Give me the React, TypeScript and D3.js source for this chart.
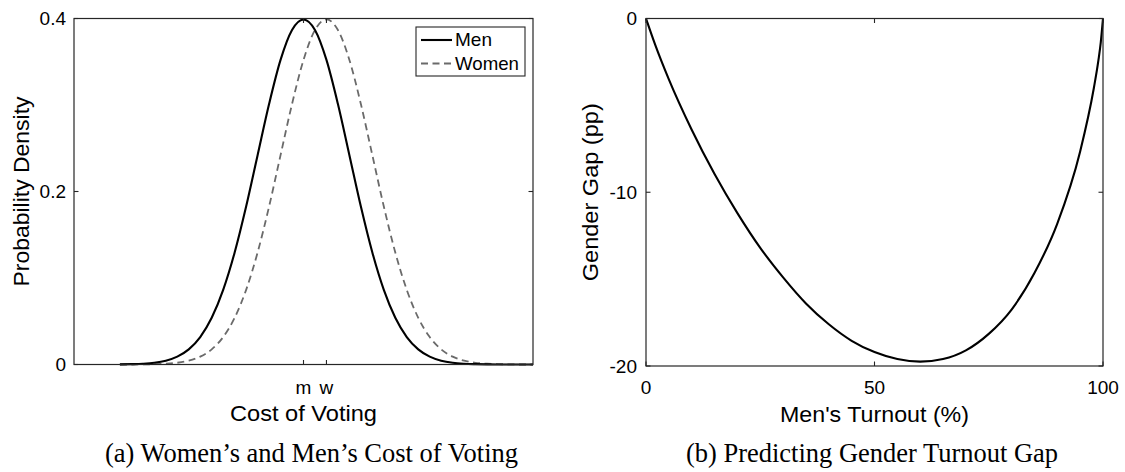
import React from "react";
import * as d3 from "d3";

// ---- Panel (a): cost of voting densities ----
const costGrid = [
  -4, -3.75, -3.5, -3.25, -3, -2.75, -2.5, -2.25, -2, -1.75, -1.5, -1.25, -1, -0.75, -0.5, -0.25,
  0, 0.25, 0.5, 0.75, 1, 1.25, 1.5, 1.75, 2, 2.25, 2.5, 2.75, 3, 3.25, 3.5, 3.75, 4, 4.25, 4.5, 4.75, 5,
];
const menDensity = [
  0.0001, 0.0004, 0.0009, 0.002, 0.0044, 0.0091, 0.0175, 0.0317, 0.054, 0.0863, 0.1295, 0.1826, 0.242,
  0.3011, 0.3521, 0.3867, 0.3989, 0.3867, 0.3521, 0.3011, 0.242, 0.1826, 0.1295, 0.0863, 0.054, 0.0317,
  0.0175, 0.0091, 0.0044, 0.002, 0.0009, 0.0004, 0.0001, 0, 0, 0, 0,
];
const womenDensity = [
  0, 0, 0.0001, 0.0004, 0.0009, 0.002, 0.0044, 0.0091, 0.0175, 0.0317, 0.054, 0.0863, 0.1295, 0.1826,
  0.242, 0.3011, 0.3521, 0.3867, 0.3989, 0.3867, 0.3521, 0.3011, 0.242, 0.1826, 0.1295, 0.0863, 0.054,
  0.0317, 0.0175, 0.0091, 0.0044, 0.002, 0.0009, 0.0004, 0.0001, 0, 0,
];
const costTicks = [0, 0.5];
const costTickLabels = ["m", "w"];
const densityTicks = [0, 0.2, 0.4];
const densityTickLabels = ["0", "0.2", "0.4"];
const legendLabels = ["Men", "Women"];

// ---- Panel (b): gender turnout gap ----
const menTurnout = [0, 2, 5, 10, 15, 20, 25, 30, 35, 40, 45, 50, 55, 60, 65, 70, 75, 80, 85, 90, 95, 98, 99, 99.5, 100];
const genderGap = [
  0, -1.5, -3.5, -6.4, -8.95, -11.2, -13.2, -14.9, -16.4, -17.6, -18.55, -19.2, -19.6, -19.75, -19.6,
  -19.1, -18.15, -16.75, -14.65, -11.8, -7.65, -4.0, -2.4, -1.4, 0,
];
const turnoutTicks = [0, 50, 100];
const gapTicks = [-20, -10, 0];

const AXIS = "#262626";
const SANS = "Helvetica, Arial, 'Liberation Sans', sans-serif";
const SERIF = "'Times New Roman', 'Liberation Serif', serif";
const TICK_FS = 19;
const TITLE_FS = 22.5;
const TL = 4.5;

export default function App() {
  // scales
  const xL = d3.scaleLinear().domain([-5, 5]).range([74, 533]);
  const yL = d3.scaleLinear().domain([0, 0.4]).range([364.5, 18.5]);
  const xR = d3.scaleLinear().domain([0, 100]).range([646, 1103]);
  const yR = d3.scaleLinear().domain([-20, 0]).range([366, 18.5]);

  const men = costGrid.map((c, i) => [c, menDensity[i]] as [number, number]);
  const women = costGrid.map((c, i) => [c, womenDensity[i]] as [number, number]);
  const gap = menTurnout.map((t, i) => [t, genderGap[i]] as [number, number]);

  const lineL = d3
    .line<[number, number]>()
    .x((d) => xL(d[0]))
    .y((d) => yL(d[1]))
    .curve(d3.curveMonotoneX);
  const lineR = d3
    .line<[number, number]>()
    .x((d) => xR(d[0]))
    .y((d) => yR(d[1]))
    .curve(d3.curveMonotoneX);

  const [lx0, lx1] = xL.range();
  const [ly0, ly1] = [yL.range()[1], yL.range()[0]];
  const [rx0, rx1] = xR.range();
  const [ry0, ry1] = [yR.range()[1], yR.range()[0]];

  return (
    <svg
      width={1125}
      height={472}
      viewBox="0 0 1125 472"
      style={{ position: "absolute", left: 0, top: 0, background: "#fff" }}
    >
      <rect x={0} y={0} width={1125} height={472} fill="#fff" />

      {/* ===== Panel (a) ===== */}
      <g>
        <path d={lineL(women) || ""} fill="none" stroke="#6a6a6a" strokeWidth={1.8} strokeDasharray="7,4.5" />
        <path d={lineL(men) || ""} fill="none" stroke="#000" strokeWidth={2.1} />

        <rect x={lx0} y={ly0} width={lx1 - lx0} height={ly1 - ly0} fill="none" stroke={AXIS} strokeWidth={1.2} />

        {costTicks.map((t, i) => (
          <g key={"xl" + i}>
            <line x1={xL(t)} x2={xL(t)} y1={ly1} y2={ly1 - TL} stroke={AXIS} strokeWidth={1.1} />
            <line x1={xL(t)} x2={xL(t)} y1={ly0} y2={ly0 + TL} stroke={AXIS} strokeWidth={1.1} />
            <text x={xL(t)} y={393.5} textAnchor="middle" fontFamily={SANS} fontSize={TICK_FS} fill="#000">
              {costTickLabels[i]}
            </text>
          </g>
        ))}
        {densityTicks.map((t, i) => (
          <g key={"yl" + i}>
            <line x1={lx0} x2={lx0 + TL} y1={yL(t)} y2={yL(t)} stroke={AXIS} strokeWidth={1.1} />
            <line x1={lx1} x2={lx1 - TL} y1={yL(t)} y2={yL(t)} stroke={AXIS} strokeWidth={1.1} />
            <text
              x={lx0 - 8}
              y={yL(t) + 1.5}
              textAnchor="end"
              dominantBaseline="middle"
              fontFamily={SANS}
              fontSize={TICK_FS}
              fill="#000"
            >
              {densityTickLabels[i]}
            </text>
          </g>
        ))}

        <text
          x={(lx0 + lx1) / 2}
          y={421}
          textAnchor="middle"
          fontFamily={SANS}
          fontSize={TITLE_FS}
          fill="#000"
          textLength={147}
          lengthAdjust="spacingAndGlyphs"
        >
          Cost of Voting
        </text>
        <text
          transform={`translate(29, ${(ly0 + ly1) / 2}) rotate(-90)`}
          textAnchor="middle"
          fontFamily={SANS}
          fontSize={TITLE_FS}
          fill="#000"
          textLength={190}
          lengthAdjust="spacingAndGlyphs"
        >
          Probability Density
        </text>

        {/* legend */}
        <rect x={416} y={27} width={109} height={49} fill="#fff" stroke={AXIS} strokeWidth={1.1} />
        <line x1={421} x2={452} y1={40} y2={40} stroke="#000" strokeWidth={2.1} />
        <line x1={421} x2={452} y1={63.5} y2={63.5} stroke="#6a6a6a" strokeWidth={1.8} strokeDasharray="7,4.5" />
        <text x={455} y={41} dominantBaseline="middle" fontFamily={SANS} fontSize={TICK_FS} fill="#000">
          {legendLabels[0]}
        </text>
        <text
          x={455}
          y={64.5}
          dominantBaseline="middle"
          fontFamily={SANS}
          fontSize={TICK_FS}
          fill="#000"
          textLength={64}
          lengthAdjust="spacingAndGlyphs"
        >
          {legendLabels[1]}
        </text>

        <text
          x={105}
          y={462}
          fontFamily={SERIF}
          fontSize={26.5}
          fill="#000"
          textLength={413}
          lengthAdjust="spacingAndGlyphs"
        >
          (a) Women’s and Men’s Cost of Voting
        </text>
      </g>

      {/* ===== Panel (b) ===== */}
      <g>
        <path d={lineR(gap) || ""} fill="none" stroke="#000" strokeWidth={2.1} />
        <rect x={rx0} y={ry0} width={rx1 - rx0} height={ry1 - ry0} fill="none" stroke={AXIS} strokeWidth={1.2} />

        {turnoutTicks.map((t, i) => (
          <g key={"xr" + i}>
            <line x1={xR(t)} x2={xR(t)} y1={ry1} y2={ry1 - TL} stroke={AXIS} strokeWidth={1.1} />
            <line x1={xR(t)} x2={xR(t)} y1={ry0} y2={ry0 + TL} stroke={AXIS} strokeWidth={1.1} />
            <text x={xR(t)} y={394} textAnchor="middle" fontFamily={SANS} fontSize={TICK_FS} fill="#000">
              {String(t)}
            </text>
          </g>
        ))}
        {gapTicks.map((t, i) => (
          <g key={"yr" + i}>
            <line x1={rx0} x2={rx0 + TL} y1={yR(t)} y2={yR(t)} stroke={AXIS} strokeWidth={1.1} />
            <line x1={rx1} x2={rx1 - TL} y1={yR(t)} y2={yR(t)} stroke={AXIS} strokeWidth={1.1} />
            <text
              x={rx0 - 9}
              y={yR(t) + 1.5}
              textAnchor="end"
              dominantBaseline="middle"
              fontFamily={SANS}
              fontSize={TICK_FS}
              fill="#000"
            >
              {String(t)}
            </text>
          </g>
        ))}

        <text
          x={(rx0 + rx1) / 2}
          y={422}
          textAnchor="middle"
          fontFamily={SANS}
          fontSize={TITLE_FS}
          fill="#000"
          textLength={189}
          lengthAdjust="spacingAndGlyphs"
        >
          Men's Turnout (%)
        </text>
        <text
          transform={`translate(598, ${(ry0 + ry1) / 2}) rotate(-90)`}
          textAnchor="middle"
          fontFamily={SANS}
          fontSize={TITLE_FS}
          fill="#000"
          textLength={178}
          lengthAdjust="spacingAndGlyphs"
        >
          Gender Gap (pp)
        </text>

        <text
          x={686}
          y={462}
          fontFamily={SERIF}
          fontSize={26.5}
          fill="#000"
          textLength={372}
          lengthAdjust="spacingAndGlyphs"
        >
          (b) Predicting Gender Turnout Gap
        </text>
      </g>
    </svg>
  );
}
